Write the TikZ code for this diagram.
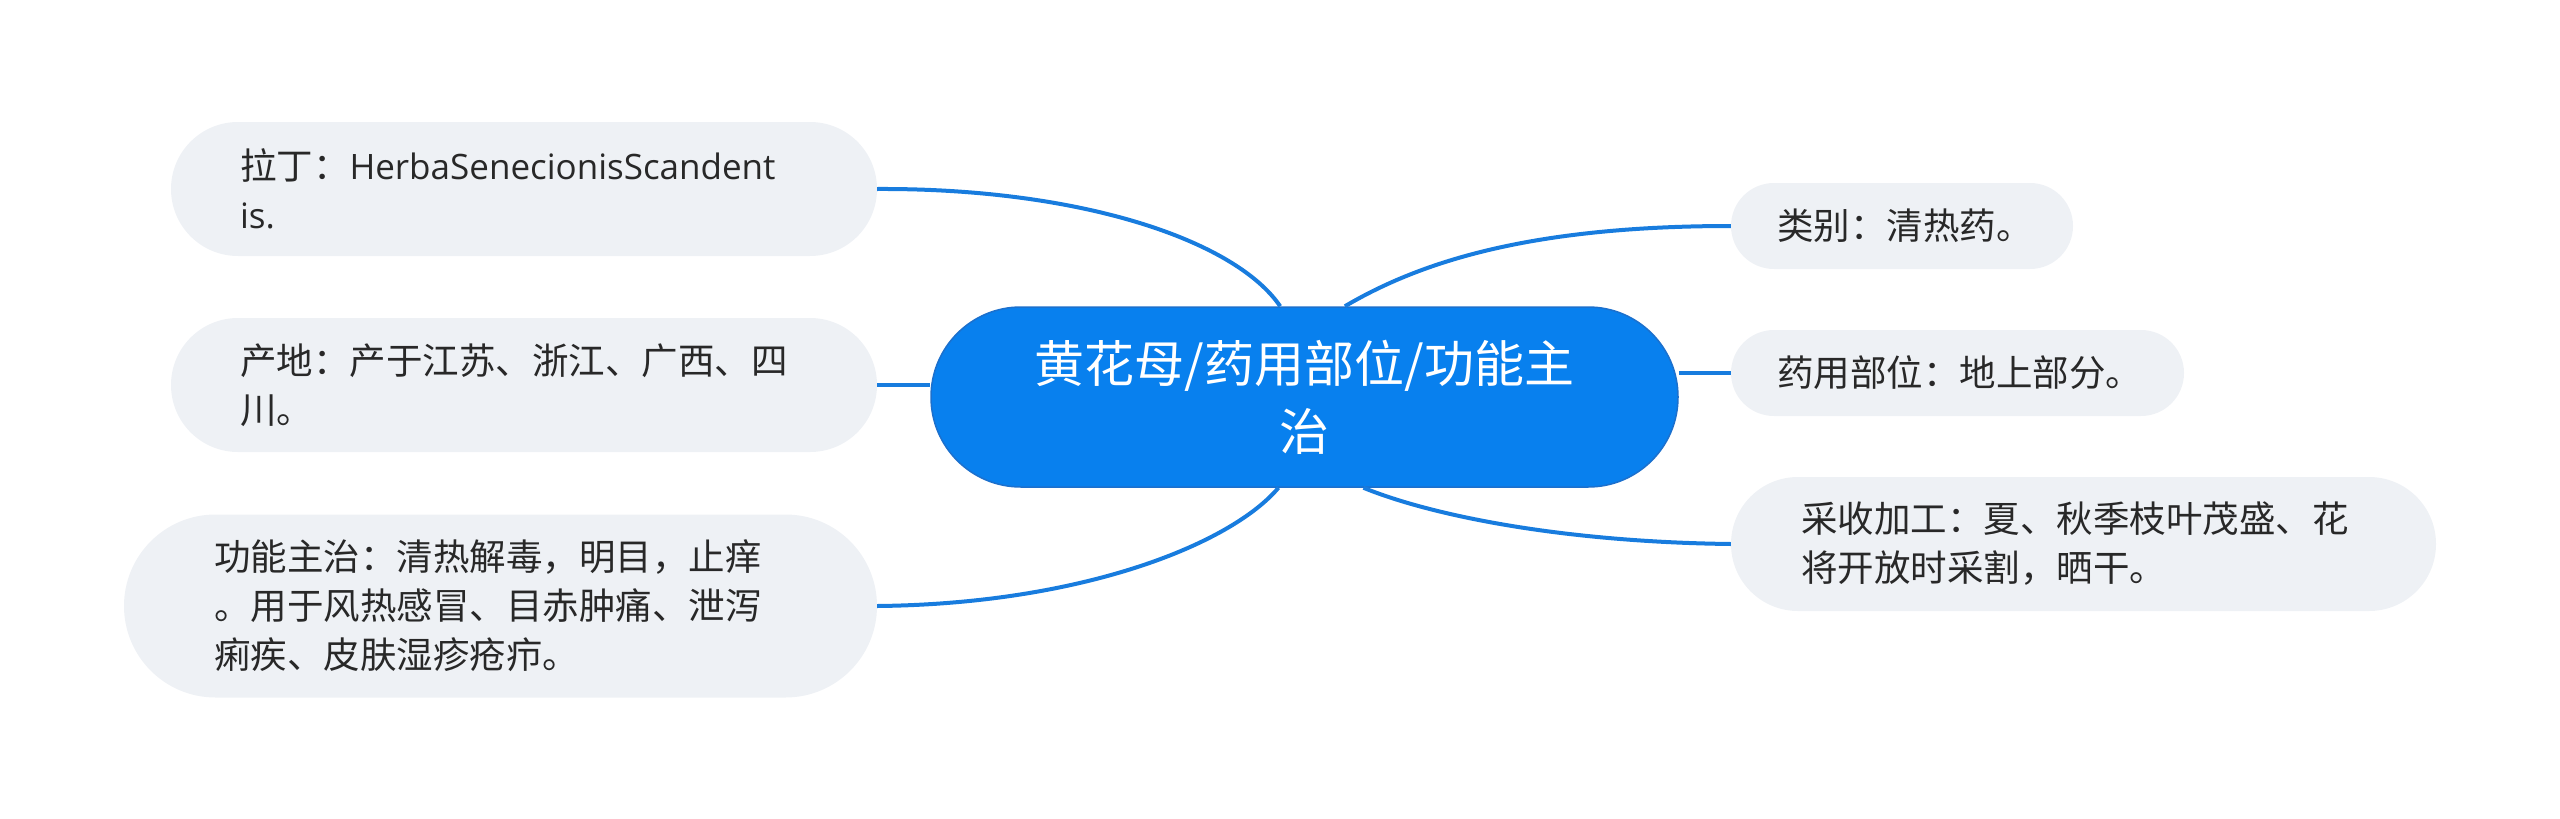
\documentclass[tikz,border=0pt]{standalone}
\usepackage{fontspec}
\setmainfont{Noto Sans CJK SC}
\newfontfamily\latinfont{Open Sans}
\definecolor{cblue}{RGB}{8,128,238}
\definecolor{cborder}{RGB}{28,112,205}
\definecolor{linkblue}{RGB}{24,124,222}
\definecolor{leafgray}{RGB}{238,241,245}
\definecolor{leaftext}{RGB}{40,40,40}
\tikzset{
  central/.style={fill=cblue, draw=cborder, line width=1.5pt, text=white,
    rounded corners=89.9pt, inner sep=0pt, minimum width=747pt, minimum height=180pt,
    align=center, font=\fontsize{50}{68}\selectfont},
  leaf/.style={fill=leafgray, draw=none, text=leaftext, inner sep=0pt,
    align=left, font=\fontsize{36.5}{49}\selectfont},
  link/.style={draw=linkblue, line width=4pt}
}
\begin{document}
\begin{tikzpicture}[x=1pt,y=-1pt]
\useasboundingbox (0,0) rectangle (2560,819);

\node[central] (c) at (1304.5,397) {黄花母/药用部位/功能主\\治};

\node[leaf, minimum width=706pt, minimum height=134pt, rounded corners=66.9pt, text width=568pt]
  (lat) at (524,189) {拉丁：\mbox{\latinfont\fontsize{35}{49}\selectfont HerbaSenecionisScandent}\\{\latinfont\fontsize{35}{49}\selectfont is.}};
\node[leaf, minimum width=706pt, minimum height=134pt, rounded corners=66.9pt, text width=568pt]
  (chan) at (524,385) {产地：产于江苏、浙江、广西、四\\川。};
\node[leaf, minimum width=753pt, minimum height=183pt, rounded corners=91.4pt, text width=573pt]
  (gong) at (500.5,606) {功能主治：清热解毒，明目，止痒\\。用于风热感冒、目赤肿痛、泄泻\\痢疾、皮肤湿疹疮疖。};

\node[leaf, minimum width=342pt, minimum height=86pt, rounded corners=42.9pt, text width=250pt]
  (lei) at (1902,226) {类别：清热药。};
\node[leaf, minimum width=453pt, minimum height=86pt, rounded corners=42.9pt, text width=361pt]
  (yao) at (1957.5,373) {药用部位：地上部分。};
\node[leaf, minimum width=705pt, minimum height=134pt, rounded corners=66.9pt, text width=565pt]
  (cai) at (2083.5,544) {采收加工：夏、秋季枝叶茂盛、花\\将开放时采割，晒干。};

\draw[link] (c.105.8) .. controls (1235,240) and (1080,188) .. (lat.east);
\draw[link] (chan.east) -- (chan.east -| c.west);
\draw[link] (c.254.8) .. controls (1230,545) and (1080,604) .. (gong.east);
\draw[link] (c.66.8) .. controls (1420,262) and (1530,226) .. (lei.west);
\draw[link] (c.east |- yao.west) -- (yao.west);
\draw[link] (c.303) .. controls (1430,515) and (1560,542) .. (cai.west);
\end{tikzpicture}
\end{document}
